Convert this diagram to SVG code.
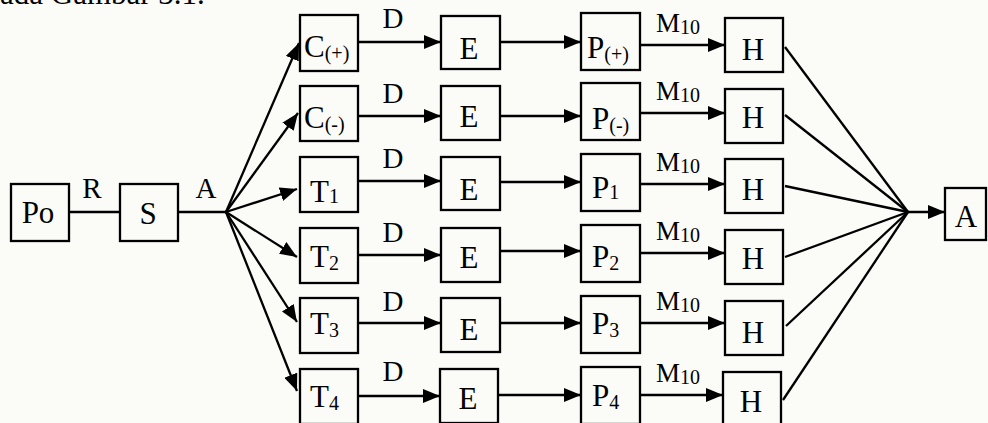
<svg xmlns="http://www.w3.org/2000/svg" width="988" height="423" viewBox="0 0 988 423">
<defs>
<style>
.bx{fill:none;stroke:#000;stroke-width:2.3}
.ln{fill:none;stroke:#000;stroke-width:2.3}
.ar{fill:none;stroke:#000;stroke-width:2.3;marker-end:url(#ah)}
text{font-family:"Liberation Serif","Times New Roman",serif;fill:#000}
.t{font-size:31px}
.c{text-anchor:middle}
.s{font-size:20px}
.lb{font-size:29px;text-anchor:middle}
.m{font-size:27px;text-anchor:middle}
</style>
<marker id="ah" markerUnits="userSpaceOnUse" markerWidth="18" markerHeight="14" refX="17" refY="7" orient="auto">
<path d="M0,0 L17,7 L0,14 z" fill="#000"/>
</marker>
</defs>
<rect width="988" height="423" fill="#fbfcf7"/>
<text class="t" x="0" y="4">ada Gambar 3.1.</text>

<g id="connectors">
<line class="ln" x1="69" y1="212" x2="120" y2="212"/>
<line class="ln" x1="178" y1="212" x2="227" y2="212"/>
<line class="ar" x1="226" y1="212" x2="299" y2="43"/>
<line class="ar" x1="226" y1="212" x2="298" y2="113"/>
<line class="ar" x1="226" y1="212" x2="297" y2="189"/>
<line class="ar" x1="226" y1="212" x2="297" y2="257"/>
<line class="ar" x1="226" y1="212" x2="297" y2="322"/>
<line class="ar" x1="226" y1="212" x2="297" y2="391"/>
<line class="ar" x1="358" y1="42" x2="441" y2="42"/>
<line class="ar" x1="358" y1="116" x2="441" y2="116"/>
<line class="ar" x1="358" y1="181" x2="441" y2="181"/>
<line class="ar" x1="358" y1="255" x2="441" y2="255"/>
<line class="ar" x1="358" y1="323" x2="441" y2="323"/>
<line class="ar" x1="358" y1="396" x2="440" y2="396"/>
<line class="ar" x1="500" y1="42" x2="581" y2="42"/>
<line class="ar" x1="500" y1="116" x2="581" y2="116"/>
<line class="ar" x1="500" y1="182" x2="581" y2="182"/>
<line class="ar" x1="500" y1="251" x2="581" y2="251"/>
<line class="ar" x1="500" y1="323" x2="581" y2="323"/>
<line class="ar" x1="498" y1="395" x2="581" y2="395"/>
<line class="ar" x1="640" y1="45" x2="725" y2="45"/>
<line class="ar" x1="640" y1="113" x2="725" y2="113"/>
<line class="ar" x1="640" y1="184" x2="725" y2="184"/>
<line class="ar" x1="640" y1="253" x2="725" y2="253"/>
<line class="ar" x1="640" y1="323" x2="725" y2="323"/>
<line class="ar" x1="640" y1="395" x2="723" y2="395"/>
<line class="ln" x1="785" y1="47" x2="908" y2="212"/>
<line class="ln" x1="785" y1="115" x2="908" y2="212"/>
<line class="ln" x1="785" y1="186" x2="908" y2="212"/>
<line class="ln" x1="785" y1="257" x2="908" y2="212"/>
<line class="ln" x1="786" y1="326" x2="908" y2="212"/>
<line class="ln" x1="783" y1="400" x2="908" y2="212"/>
<line class="ar" x1="908" y1="212" x2="945" y2="212"/>
<text class="lb" x="92" y="198">R</text>
<text class="lb" x="206" y="198">A</text>
<text class="lb" x="393" y="28">D</text>
<text class="lb" x="393" y="103">D</text>
<text class="lb" x="393" y="168">D</text>
<text class="lb" x="393" y="242">D</text>
<text class="lb" x="393" y="311">D</text>
<text class="lb" x="393" y="381">D</text>
<text class="m" x="678" y="32">M<tspan class="s" dy="2">10</tspan></text>
<text class="m" x="678" y="100">M<tspan class="s" dy="2">10</tspan></text>
<text class="m" x="678" y="171">M<tspan class="s" dy="2">10</tspan></text>
<text class="m" x="678" y="240">M<tspan class="s" dy="2">10</tspan></text>
<text class="m" x="678" y="310">M<tspan class="s" dy="2">10</tspan></text>
<text class="m" x="678" y="382">M<tspan class="s" dy="2">10</tspan></text>
</g>

<g id="po"><rect class="bx" x="11" y="184" width="58" height="57"/><text class="t c" x="38" y="223">Po</text></g>
<g id="s"><rect class="bx" x="120" y="184" width="58" height="57"/><text class="t c" x="148" y="224">S</text></g>

<g id="c-plus"><rect class="bx" x="300" y="15" width="58" height="56"/><text class="t" x="304" y="57">C<tspan class="s" dy="3">(+)</tspan></text></g>
<g id="c-minus"><rect class="bx" x="300" y="86" width="58" height="55"/><text class="t" x="304" y="128">C<tspan class="s" dy="3">(-)</tspan></text></g>
<g id="t1"><rect class="bx" x="300" y="157" width="58" height="55"/><text class="t" x="310" y="202">T<tspan class="s" dy="1">1</tspan></text></g>
<g id="t2"><rect class="bx" x="300" y="228" width="58" height="55"/><text class="t" x="310" y="267">T<tspan class="s" dy="3">2</tspan></text></g>
<g id="t3"><rect class="bx" x="300" y="298" width="58" height="55"/><text class="t" x="310" y="334">T<tspan class="s" dy="3">3</tspan></text></g>
<g id="t4"><rect class="bx" x="300" y="369" width="58" height="55"/><text class="t" x="310" y="407">T<tspan class="s" dy="3">4</tspan></text></g>

<g id="e1"><rect class="bx" x="441" y="16" width="59" height="53"/><text class="t c" x="469" y="59">E</text></g>
<g id="e2"><rect class="bx" x="441" y="86" width="59" height="54"/><text class="t c" x="469" y="127">E</text></g>
<g id="e3"><rect class="bx" x="441" y="157" width="59" height="53"/><text class="t c" x="469" y="200">E</text></g>
<g id="e4"><rect class="bx" x="441" y="228" width="59" height="54"/><text class="t c" x="469" y="268">E</text></g>
<g id="e5"><rect class="bx" x="441" y="298" width="59" height="54"/><text class="t c" x="469" y="340">E</text></g>
<g id="e6"><rect class="bx" x="440" y="369" width="58" height="54"/><text class="t c" x="468" y="409">E</text></g>

<g id="p-plus"><rect class="bx" x="581" y="13" width="59" height="57"/><text class="t" x="587" y="58">P<tspan class="s" dy="3">(+)</tspan></text></g>
<g id="p-minus"><rect class="bx" x="581" y="83" width="59" height="57"/><text class="t" x="592" y="129">P<tspan class="s" dy="3">(-)</tspan></text></g>
<g id="p1"><rect class="bx" x="581" y="154" width="59" height="57"/><text class="t" x="592" y="198">P<tspan class="s" dy="1">1</tspan></text></g>
<g id="p2"><rect class="bx" x="581" y="225" width="59" height="57"/><text class="t" x="592" y="267">P<tspan class="s" dy="3">2</tspan></text></g>
<g id="p3"><rect class="bx" x="581" y="296" width="59" height="57"/><text class="t" x="592" y="334">P<tspan class="s" dy="3">3</tspan></text></g>
<g id="p4"><rect class="bx" x="581" y="367" width="59" height="57"/><text class="t" x="592" y="406">P<tspan class="s" dy="3">4</tspan></text></g>

<g id="h1"><rect class="bx" x="725" y="18" width="58" height="54"/><text class="t c" x="753" y="60">H</text></g>
<g id="h2"><rect class="bx" x="725" y="89" width="58" height="54"/><text class="t c" x="753" y="128">H</text></g>
<g id="h3"><rect class="bx" x="725" y="159" width="58" height="54"/><text class="t c" x="753" y="200">H</text></g>
<g id="h4"><rect class="bx" x="725" y="230" width="58" height="54"/><text class="t c" x="753" y="269">H</text></g>
<g id="h5"><rect class="bx" x="725" y="301" width="58" height="54"/><text class="t c" x="753" y="343">H</text></g>
<g id="h6"><rect class="bx" x="723" y="372" width="58" height="54"/><text class="t c" x="751" y="412">H</text></g>

<g id="a-out"><rect class="bx" x="945" y="188" width="41" height="52"/><text class="t c" x="966" y="227">A</text></g>
</svg>
